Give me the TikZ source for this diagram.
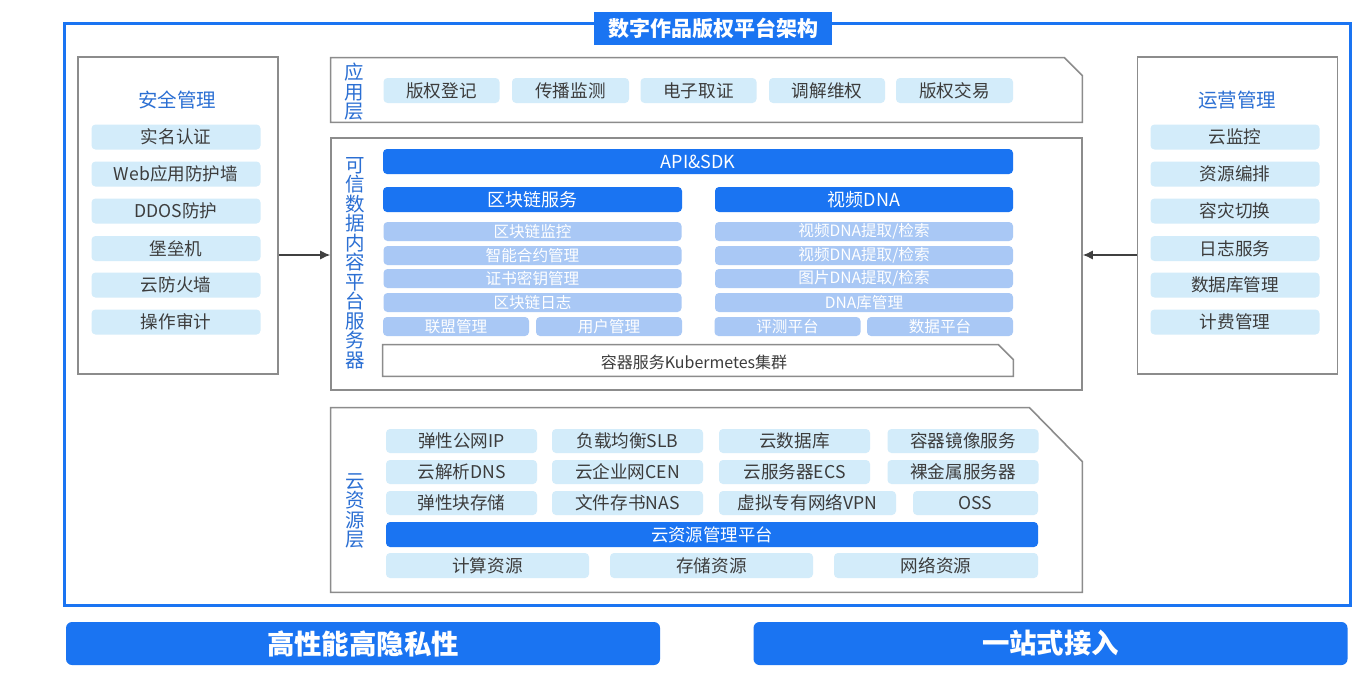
\documentclass[tikz,border=0pt]{standalone}
\usepackage{fontspec}
\setmainfont{Noto Sans CJK SC}
\usepackage{tikz}
\usetikzlibrary{arrows.meta,positioning,calc}
\definecolor{mainblue}{HTML}{1A74F2}
\definecolor{itemfill}{HTML}{D3ECFA}
\definecolor{dnafill}{HTML}{A9C8F5}
\definecolor{framegray}{HTML}{8C8C8C}
\definecolor{labelblue}{HTML}{2B6FD3}
\definecolor{itemtext}{HTML}{3C3C3C}
\tikzset{
  box/.style={rounded corners=2pt,align=center,inner sep=0pt,
              minimum width=84.5pt,minimum height=12.5pt},
  ibox/.style={box,fill=itemfill,text=itemtext,font=\fontsize{8.8}{10}\selectfont},
  cbox/.style={ibox,minimum width=75.5pt,minimum height=12pt},
  dbox/.style={box,fill=dnafill,text=white,font=\fontsize{7.8}{9}\selectfont,
               minimum width=149pt,minimum height=9.5pt},
  hbox/.style={dbox,minimum width=73pt},
  bbar/.style={box,fill=mainblue,text=white,font=\fontsize{9}{10}\selectfont},
  frm/.style={draw=framegray,line width=0.8pt},
  pane/.style={frm,fill=white,inner sep=0pt,minimum width=100pt,minimum height=158.5pt},
  lyr/.style={inner sep=0pt,minimum width=375.5pt},
  vlab/.style={text=labelblue,align=center,inner sep=0pt,text width=10pt,
               font=\fontsize{9.75}{9.75}\selectfont},
  ptitle/.style={text=labelblue,font=\fontsize{9.75}{11}\selectfont},
  arr/.style={-{Latex[length=5pt,width=4.5pt]},draw=black!75,line width=0.6pt},
  bigbtn/.style={box,rounded corners=3pt,fill=mainblue,text=white,
                 font=\bfseries\fontsize{13.7}{15}\selectfont,
                 minimum width=297pt,minimum height=21.5pt},
}
\begin{document}
\begin{tikzpicture}[x=0.5pt,y=-0.5pt]
\fill[white] (0,0) rectangle (1367,680);
\useasboundingbox (0,0) rectangle (1367,680);
% outer frame and title
\node[draw=mainblue,line width=1.5pt,inner sep=0pt,minimum width=643pt,minimum height=291pt] (outer) at (707,314) {};
\node[fill=mainblue,text=white,inner sep=0pt,minimum width=119pt,minimum height=16.5pt,
      font=\bfseries\fontsize{10.5}{12}\selectfont] (ttl) at (713,28.5) {数字作品版权平台架构};

% left panel: security
\node[pane] (sec) at (178,215.5) {};
\node[ptitle] (sect) at (177,100) {安全管理};
\node[ibox] (s1) at (176,137) {实名认证};
\node[ibox] (s2) at (176,174) {Web应用防护墙};
\node[ibox] (s3) at (176,211) {DDOS防护};
\node[ibox] (s4) at (176,248.5) {堡垒机};
\node[ibox] (s5) at (176,285) {云防火墙};
\node[ibox] (s6) at (176,322) {操作审计};

% right panel: operations
\node[pane] (ops) at (1237.5,215.5) {};
\node[ptitle] (opst) at (1237,100) {运营管理};
\node[ibox] (o1) at (1235,137) {云监控};
\node[ibox] (o2) at (1235,174) {资源编排};
\node[ibox] (o3) at (1235,211) {容灾切换};
\node[ibox] (o4) at (1235,248.5) {日志服务};
\node[ibox] (o5) at (1235,285) {数据库管理};
\node[ibox] (o6) at (1235,322) {计费管理};

% application layer
\node[lyr,minimum height=32pt] (app) at (706.5,90) {};
\draw[frm] (app.south west) -- (app.north west) -- ([xshift=-9pt]app.north east)
  -- ([yshift=-9pt]app.north east) -- (app.south east) -- cycle;
\node[vlab] (appl) at (354,92) {应\\用\\层};
\node[ibox,minimum width=58pt] (a1) at (441.5,90.5) {版权登记};
\node[ibox,minimum width=58.5pt] (a2) at (570.5,90.5) {传播监测};
\node[ibox,minimum width=58pt] (a3) at (698.5,90.5) {电子取证};
\node[ibox,minimum width=58pt] (a4) at (827,90.5) {调解维权};
\node[ibox,minimum width=58.5pt] (a5) at (954.5,90.5) {版权交易};

% trusted data platform
\node[lyr,frm,minimum height=126pt] (plat) at (706.5,264) {};
\node[vlab] (platl) at (355,263) {可\\信\\数\\据\\内\\容\\平\\台\\服\\务\\器};
\node[bbar,minimum width=315pt] (api) at (698,161.5) {API\&SDK};
\node[bbar,minimum width=149.5pt] (bc) at (532.5,199.5) {区块链服务};
\node[bbar,minimum width=149pt] (dna) at (864,199.5) {视频DNA};
\node[dbox] (b1) at (532.5,231.5) {区块链监控};
\node[dbox] (b2) at (532.5,255.5) {智能合约管理};
\node[dbox] (b3) at (532.5,278.5) {证书密钥管理};
\node[dbox] (b4) at (532.5,302.5) {区块链日志};
\node[hbox] (b5) at (456,326.5) {联盟管理};
\node[hbox] (b6) at (609,326.5) {用户管理};
\node[dbox] (d1) at (864,231.5) {视频DNA提取/检索};
\node[dbox] (d2) at (864,255.5) {视频DNA提取/检索};
\node[dbox] (d3) at (864,278.5) {图片DNA提取/检索};
\node[dbox] (d4) at (864,302.5) {DNA库管理};
\node[hbox] (d5) at (787.5,326.5) {评测平台};
\node[hbox] (d6) at (940,326.5) {数据平台};
\node[inner sep=0pt,minimum width=315pt,minimum height=15.5pt] (k8s) at (698,360.5) {};
\draw[frm,fill=white] (k8s.south west) -- (k8s.north west) -- ([xshift=-7.5pt]k8s.north east)
  -- ([yshift=-7.5pt]k8s.north east) -- (k8s.south east) -- cycle;
\node[text=itemtext,font=\fontsize{8}{9}\selectfont] (k8st) at (694,362) {容器服务Kubermetes集群};

% cloud resource layer
\node[lyr,minimum height=92pt] (cloud) at (706.5,500) {};
\draw[frm] (cloud.south west) -- (cloud.north west) -- ([xshift=-26.5pt]cloud.north east)
  -- ([yshift=-27pt]cloud.north east) -- (cloud.south east) -- cycle;
\node[vlab] (cloudl) at (355,511) {云\\资\\源\\层};
\node[cbox] (r11) at (461.5,441) {弹性公网IP};
\node[cbox] (r12) at (627.5,441) {负载均衡SLB};
\node[cbox] (r13) at (794.5,441) {云数据库};
\node[cbox] (r14) at (963,441) {容器镜像服务};
\node[cbox] (r21) at (461.5,472) {云解析DNS};
\node[cbox] (r22) at (627.5,472) {云企业网CEN};
\node[cbox] (r23) at (794.5,472) {云服务器ECS};
\node[cbox] (r24) at (963,472) {裸金属服务器};
\node[cbox] (r31) at (461.5,503) {弹性块存储};
\node[cbox] (r32) at (627.5,503) {文件存书NAS};
\node[cbox,minimum width=88.5pt] (r33) at (807.5,503) {虚拟专有网络VPN};
\node[cbox,minimum width=62.5pt] (r34) at (975.5,503) {OSS};
\node[bbar,minimum width=326pt,font=\fontsize{8.7}{10}\selectfont] (cmp) at (712,534.5) {云资源管理平台};
\node[cbox,minimum width=101.5pt,minimum height=12.5pt] (r51) at (487.5,565.5) {计算资源};
\node[cbox,minimum width=101.5pt,minimum height=12.5pt] (r52) at (711.5,565.5) {存储资源};
\node[cbox,minimum width=102pt,minimum height=12.5pt] (r53) at (936,565.5) {网络资源};

% arrows from side panels
\draw[arr] ([yshift=4.5pt]plat.west -| sec.east) -- ([yshift=4.5pt]plat.west);
\draw[arr] ([yshift=4.5pt]plat.east -| ops.west) -- ([yshift=4.5pt]plat.east);

% bottom buttons
\node[bigbtn] (perf) at (363,643.5) {高性能高隐私性};
\node[bigbtn] (onestop) at (1050.5,643.5) {一站式接入};
\end{tikzpicture}
\end{document}
